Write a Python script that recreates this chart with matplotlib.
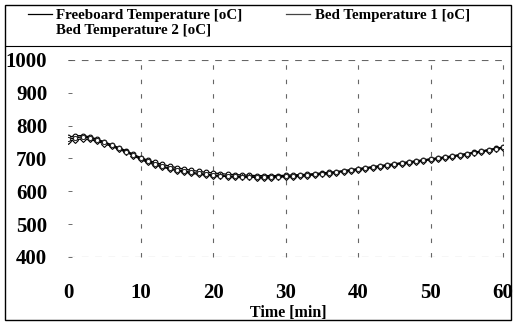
import matplotlib
matplotlib.use("Agg")
import matplotlib.pyplot as plt
from matplotlib.lines import Line2D
from matplotlib.patches import Rectangle

plt.rcParams['font.family'] = ['Liberation Serif', 'DejaVu Serif']
plt.rcParams['font.weight'] = 'bold'

# ── data ─────────────────────────────────────────────────
time_min = list(range(0, 61))
freeboard = [765, 769, 770, 766, 759, 751, 742, 733, 724, 713, 703,
             695, 688, 682, 677, 672, 668, 664, 661, 658, 656,
             654, 652, 651, 650, 649, 648, 648, 648, 648, 649,
             650, 651, 652, 654, 656, 658, 660, 663, 666, 669,
             672, 675, 678, 681, 684, 687, 690, 693, 696, 699,
             702, 705, 708, 712, 715, 719, 723, 727, 731, 735]
bed1 = [752, 757, 760, 758, 752, 745, 737, 728, 719, 709, 697,
        688, 680, 674, 668, 663, 659, 655, 652, 650, 648,
        646, 645, 644, 643, 643, 642, 642, 642, 643, 644,
        645, 646, 648, 650, 652, 654, 657, 660, 663, 666,
        669, 672, 675, 678, 681, 684, 687, 690, 693, 696,
        699, 702, 705, 709, 712, 716, 720, 724, 728, 732]
bed2 = [758, 763, 766, 763, 757, 749, 740, 731, 721, 711, 700,
        691, 684, 677, 671, 666, 662, 658, 655, 652, 650,
        648, 647, 646, 645, 645, 644, 644, 645, 645, 646,
        647, 649, 650, 652, 654, 656, 659, 662, 665, 668,
        671, 674, 677, 680, 683, 686, 689, 692, 695, 698,
        701, 704, 707, 710, 714, 718, 722, 726, 730, 734]
labels = ["Freeboard Temperature [oC]", "Bed Temperature 1 [oC]", "Bed Temperature 2 [oC]"]
x_ticks = [0, 10, 20, 30, 40, 50, 60]
y_ticks = [400, 500, 600, 700, 800, 900, 1000]

fig = plt.figure(figsize=(5.14, 3.24), dpi=100)
ax = fig.add_axes([68 / 514, 1 - 257 / 324, 435 / 514, 197 / 324])

# ── curves ───────────────────────────────────────────────
ax.plot(time_min, freeboard, color="black", lw=0.9, marker="o", ms=3.4,
        mfc="white", mec="black", mew=0.8)
ax.plot(time_min, bed1, color="black", lw=0.9, marker="D", ms=3.0,
        mfc="white", mec="black", mew=0.8)
ax.plot(time_min, bed2, color="black", lw=0.9, marker="o", ms=3.0,
        mfc="white", mec="#222222", mew=0.7)

# ── broken grid lines ────────────────────────────────────
for xv in x_ticks[1:]:
    ax.axvline(xv, color="#666666", lw=0.8, ls=(0, (4, 9)), zorder=0, clip_on=False)
for yv in (400, 1000):
    ax.axhline(yv, color="#666666", lw=0.8, ls=(0, (6, 6)), zorder=0)

ax.set_xlim(0, 60)
ax.set_ylim(400, 1000)
ax.set_xticks(x_ticks)
ax.set_yticks(y_ticks)
for s in ax.spines.values():
    s.set_visible(False)
ax.tick_params(axis="x", length=0, pad=19, labelsize=15)
ax.tick_params(axis="y", direction="in", length=3, width=0.6, color="#555555",
               pad=15, labelsize=15)
for t in ax.get_xticklabels() + ax.get_yticklabels():
    t.set_fontweight("bold")

fig.text(288 / 514, 1 - 313 / 324, "Time [min]", ha="center", va="center",
         fontsize=11.5, fontweight="bold")

# ── legend above the plot ────────────────────────────────
h1 = Line2D([], [], color="black", lw=0.9)
h2 = Line2D([], [], color="#444444", lw=0.9)
h3 = Line2D([], [], color="white", lw=0)
fig.legend([h1, h3, h2], [labels[0], labels[2], labels[1]], ncol=2,
           loc="upper left", bbox_to_anchor=(0.028, 1.015), frameon=False,
           prop={"size": 10.8, "weight": "bold"}, handlelength=1.6,
           handletextpad=0.3, columnspacing=2.9, labelspacing=0.1)

# separator line and outer frame
fig.add_artist(Line2D([0.012, 0.995], [1 - 46 / 324] * 2, color="black", lw=0.8))
fig.add_artist(Rectangle((0.01, 0.012), 0.985, 0.972, fill=False,
                         ec="black", lw=1.0, transform=fig.transFigure))

fig.savefig("out.png", dpi=100)
